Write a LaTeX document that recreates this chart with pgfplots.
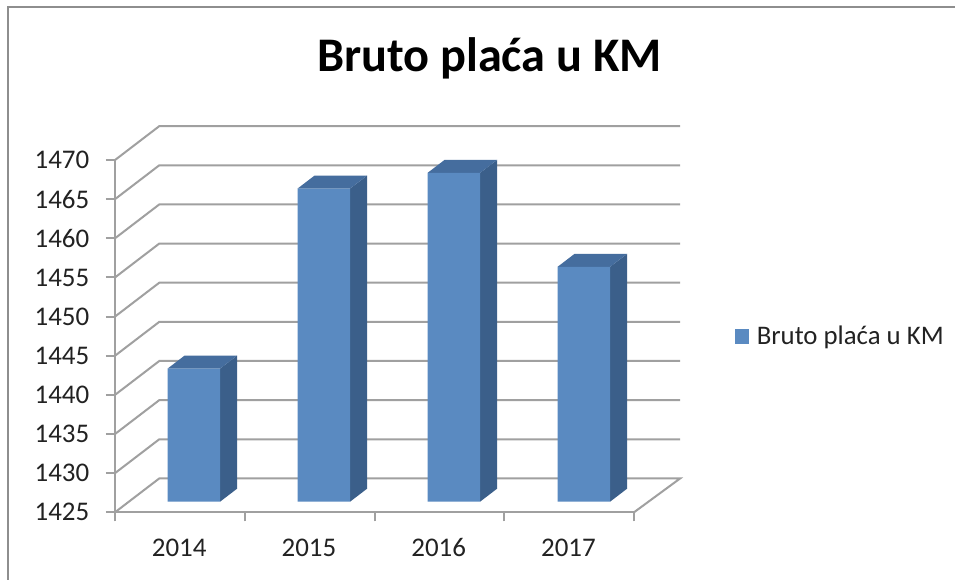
\documentclass[border=0pt]{standalone}
\usepackage{fontspec}
\setmainfont{Carlito}
\usepackage{pgfplots}
\pgfplotsset{compat=1.18}
\definecolor{barfront}{HTML}{5A8AC1}
\definecolor{barside}{HTML}{3B5F8A}
\definecolor{bartop}{HTML}{456D9E}
\definecolor{gridgray}{HTML}{A0A0A0}
\definecolor{framegray}{HTML}{8E8E8E}
\definecolor{txt}{HTML}{222222}
\begin{document}
\begin{tikzpicture}
\fill[white] (-86.25pt,-50.775pt) rectangle (629.999pt,384.225pt);
\draw[framegray,line width=1.5pt] (-79.9pt,-50.775pt) -- (-79.9pt,379.1pt) -- (630pt,379.1pt);
\begin{axis}[
  scale only axis, width=389.25pt, height=264.2pt,
  at={(0pt,0pt)}, anchor=south west,
  xmin=0, xmax=4, ymin=1425, ymax=1470,
  clip=false,
  axis x line*=bottom, axis y line*=left,
  axis line style={gridgray,line width=1.5pt,-},
  tick style={gridgray,line width=1.5pt},
  major tick length=6.75pt,
  tick align=outside,
  xtick={0,1,2,3,4}, xticklabels={},
  extra x ticks={0.5,1.5,2.5,3.5},
  extra x tick labels={2014,2015,2016,2017},
  extra x tick style={tick style={draw=none},
    xticklabel style={anchor=base,yshift=-26.5pt,xshift=-0.5pt}},
  ytick={1425,1430,1435,1440,1445,1450,1455,1460,1465,1470},
  /pgf/number format/assume math mode=true,
  /pgf/number format/set thousands separator={},
  ticklabel style={font=\fontsize{20.2pt}{23pt}\selectfont,text=txt},
  yticklabel style={xshift=-9pt},
  every axis title shift=0pt,
  title={Bruto plaća u KM},
  title style={at={(0.7216,1.25)},anchor=base,inner sep=0pt,font=\fontsize{36.2pt}{40pt}\selectfont\bfseries,text=black},
]
\addplot[gridgray,line width=1.5pt] coordinates {(0,1425) (0.3414,1429.33) (4.356,1429.33) (4,1425)};
\addplot[gridgray,line width=1.5pt] coordinates {(0,1430) (0.3414,1434.33) (4.356,1434.33)};
\addplot[gridgray,line width=1.5pt] coordinates {(0,1435) (0.3414,1439.33) (4.356,1439.33)};
\addplot[gridgray,line width=1.5pt] coordinates {(0,1440) (0.3414,1444.33) (4.356,1444.33)};
\addplot[gridgray,line width=1.5pt] coordinates {(0,1445) (0.3414,1449.33) (4.356,1449.33)};
\addplot[gridgray,line width=1.5pt] coordinates {(0,1450) (0.3414,1454.33) (4.356,1454.33)};
\addplot[gridgray,line width=1.5pt] coordinates {(0,1455) (0.3414,1459.33) (4.356,1459.33)};
\addplot[gridgray,line width=1.5pt] coordinates {(0,1460) (0.3414,1464.33) (4.356,1464.33)};
\addplot[gridgray,line width=1.5pt] coordinates {(0,1465) (0.3414,1469.33) (4.356,1469.33)};
\addplot[gridgray,line width=1.5pt] coordinates {(0,1470) (0.3414,1474.33) (4.356,1474.33)};
\end{axis}
\begin{axis}[
  scale only axis, width=390pt, height=264.2pt,
  at={(10.35pt,7.95pt)}, anchor=south west,
  xmin=-0.5, xmax=3.5, ymin=1425, ymax=1470,
  hide axis,
  legend style={draw=none,fill=none,at={(1.1658,0.4689)},anchor=west,inner sep=0pt,outer sep=0pt,
    font=\fontsize{20.1pt}{22pt}\selectfont,text=txt,
    nodes={inner sep=0pt,outer sep=0pt},
    /tikz/every even column/.append style={column sep=0pt}},
  legend image code/.code={\fill[barfront] (0pt,-5.4pt) rectangle (10.8pt,5.4pt);},
  legend cell align=left,
]
% 2014 side and top
\addplot[fill=barside,draw=none,forget plot] coordinates {(0.202,1425) (0.3328,1426.66) (0.3328,1443.66) (0.202,1442) (0.202,1425)};
\addplot[fill=bartop,draw=none,forget plot] coordinates {(-0.202,1442) (-0.0712,1443.66) (0.3328,1443.66) (0.202,1442) (-0.202,1442)};
% 2015
\addplot[fill=barside,draw=none,forget plot] coordinates {(1.202,1425) (1.3328,1426.66) (1.3328,1466.66) (1.202,1465) (1.202,1425)};
\addplot[fill=bartop,draw=none,forget plot] coordinates {(0.798,1465) (0.9288,1466.66) (1.3328,1466.66) (1.202,1465) (0.798,1465)};
% 2016
\addplot[fill=barside,draw=none,forget plot] coordinates {(2.202,1425) (2.3328,1426.66) (2.3328,1468.66) (2.202,1467) (2.202,1425)};
\addplot[fill=bartop,draw=none,forget plot] coordinates {(1.798,1467) (1.9288,1468.66) (2.3328,1468.66) (2.202,1467) (1.798,1467)};
% 2017
\addplot[fill=barside,draw=none,forget plot] coordinates {(3.202,1425) (3.3328,1426.66) (3.3328,1456.66) (3.202,1455) (3.202,1425)};
\addplot[fill=bartop,draw=none,forget plot] coordinates {(2.798,1455) (2.9288,1456.66) (3.3328,1456.66) (3.202,1455) (2.798,1455)};
% front faces
\addplot[ybar,bar width=0.404,bar shift=0pt,fill=barfront,draw=none] coordinates {(0,1442) (1,1465) (2,1467) (3,1455)};
\addlegendentry{\hspace{5.5pt}Bruto plaća u KM}
\end{axis}
\pgfresetboundingbox
\path[use as bounding box] (-86.25pt,-50.775pt) rectangle (629.999pt,384.225pt);
\end{tikzpicture}
\end{document}
